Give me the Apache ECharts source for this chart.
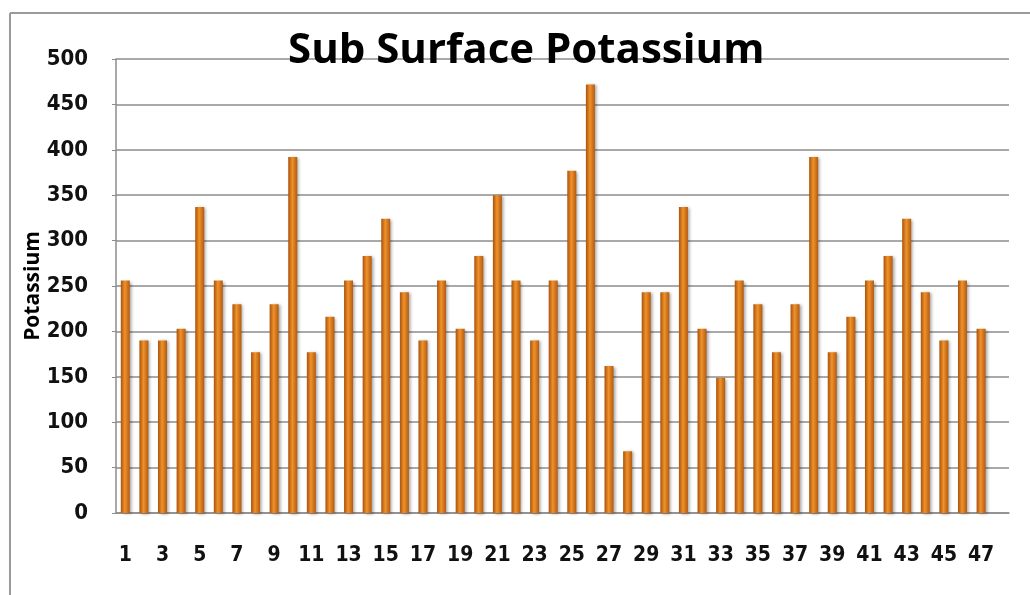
<!DOCTYPE html>
<html>
<head>
<meta charset="utf-8">
<script src="https://cdn.jsdelivr.net/npm/echarts@6/dist/echarts.min.js"></script>
<style>
  html, body { margin: 0; padding: 0; background: #fff; }
  #main { width: 1030px; height: 595px; }
</style>
</head>
<body>
<div id="main"></div>
<script>
// sample number 1..47 (48th slot is empty in the original sheet)
const samples = [
  "1", "2", "3", "4", "5", "6", "7", "8", "9", "10",
  "11", "12", "13", "14", "15", "16", "17", "18", "19", "20",
  "21", "22", "23", "24", "25", "26", "27", "28", "29", "30",
  "31", "32", "33", "34", "35", "36", "37", "38", "39", "40",
  "41", "42", "43", "44", "45", "46", "47", "48"
];
const potassium = [
  256, 190, 190, 203, 337, 256, 230, 177, 230, 392,
  177, 216, 256, 283, 324, 243, 190, 256, 203, 283,
  350, 256, 190, 256, 377, 472, 162, 68, 243, 243,
  337, 203, 149, 256, 230, 177, 230, 392, 177, 216,
  256, 283, 324, 243, 190, 256, 203, null
];

const labelFont = "'Liberation Sans Narrow', 'DejaVu Sans Condensed', sans-serif";

const chart = echarts.init(document.getElementById("main"), null, { renderer: "canvas" });

const option = {
  backgroundColor: "#fff",
  animation: false,
  title: {
    text: "Sub Surface Potassium",
    left: 283,
    top: 25,
    textStyle: {
      fontFamily: "'Open Sans', sans-serif",
      fontWeight: "bold",
      fontSize: 42,
      color: "#000"
    }
  },
  graphic: [
    // frame of the original chart area (only top/left are visible)
    { type: "line", shape: { x1: 10, y1: 13, x2: 1030, y2: 13 }, style: { stroke: "#9a9a9a", lineWidth: 2 }, z: -1 },
    { type: "line", shape: { x1: 10, y1: 13, x2: 10, y2: 595 }, style: { stroke: "#9a9a9a", lineWidth: 2 }, z: -1 }
  ],
  grid: { left: 116, right: 21, top: 59, bottom: 82 },
  xAxis: {
    type: "category",
    data: samples,
    axisLine: { lineStyle: { color: "#8c8c8c", width: 1.5 } },
    axisTick: { show: false },
    axisLabel: {
      interval: 1,
      margin: 32,
      fontFamily: labelFont,
      fontWeight: "bold",
      fontSize: 21,
      color: "#111"
    }
  },
  yAxis: {
    type: "value",
    min: 0,
    max: 500,
    interval: 50,
    name: "Potassium",
    nameLocation: "middle",
    nameGap: 72,
    nameMoveOverlap: false,
    nameTextStyle: {
      fontFamily: "'Open Sans', sans-serif",
      fontWeight: "bold",
      fontSize: 21,
      color: "#000"
    },
    axisLine: { show: true, lineStyle: { color: "#8c8c8c", width: 1.5 } },
    axisTick: { show: true, length: 4, lineStyle: { color: "#8c8c8c" } },
    axisLabel: {
      margin: 28,
      fontFamily: labelFont,
      fontWeight: "bold",
      fontSize: 22,
      color: "#111"
    },
    splitLine: { lineStyle: { color: "#8c8c8c", width: 1.5 } }
  },
  series: [
    {
      name: "Potassium",
      type: "bar",
      data: potassium,
      barWidth: 9,
      itemStyle: {
        color: new echarts.graphic.LinearGradient(0, 0, 1, 0, [
          { offset: 0, color: "#a9520c" },
          { offset: 0.45, color: "#f0922a" },
          { offset: 1, color: "#b35a10" }
        ]),
        shadowColor: "rgba(0,0,0,0.35)",
        shadowBlur: 3,
        shadowOffsetX: 2,
        shadowOffsetY: 1
      }
    }
  ]
};

chart.setOption(option);
</script>
</body>
</html>
